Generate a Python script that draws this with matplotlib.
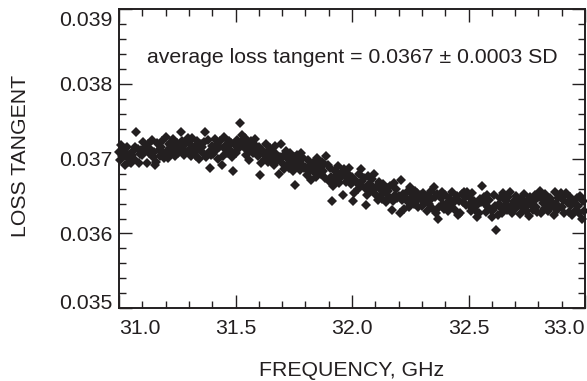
import numpy as np
import matplotlib
matplotlib.use("Agg")
import matplotlib.pyplot as plt
from matplotlib.ticker import MultipleLocator
from matplotlib.transforms import ScaledTranslation

# loss tangent readings in units of 1e-5, one row per 0.1 GHz (step 0.005 GHz)
LT_1E5 = [
    3709, 3698, 3718, 3704, 3712, 3692, 3707, 3715, 3701, 3695, 3694, 3705, 3710, 3699, 3716, 3736, 3713, 3694, 3706, 3711,
    3705, 3722, 3710, 3715, 3694, 3719, 3707, 3713, 3725, 3702, 3709, 3691, 3695, 3721, 3712, 3704, 3716, 3723, 3708, 3701,
    3729, 3710, 3701, 3719, 3714, 3706, 3726, 3712, 3703, 3717, 3721, 3708, 3715, 3735, 3724, 3713, 3705, 3720, 3709, 3727,
    3711, 3720, 3703, 3727, 3708, 3716, 3704, 3724, 3713, 3700, 3719, 3715, 3707, 3722, 3735, 3702, 3725, 3709, 3688, 3705,
    3717, 3706, 3726, 3712, 3720, 3700, 3715, 3723, 3692, 3703, 3729, 3713, 3718, 3707, 3724, 3711, 3721, 3702, 3684, 3719,
    3708, 3725, 3713, 3718, 3747, 3722, 3732, 3716, 3728, 3705, 3712, 3720, 3698, 3724, 3715, 3707, 3719, 3726, 3711, 3704,
    3715, 3678, 3694, 3712, 3707, 3699, 3719, 3705, 3696, 3710, 3714, 3701, 3708, 3691, 3717, 3706, 3698, 3680, 3702, 3720,
    3694, 3703, 3686, 3710, 3691, 3699, 3687, 3707, 3696, 3683, 3702, 3665, 3690, 3705, 3695, 3685, 3708, 3692, 3701, 3688,
    3689, 3678, 3698, 3684, 3692, 3672, 3687, 3695, 3681, 3675, 3701, 3685, 3690, 3679, 3696, 3683, 3693, 3674, 3703, 3691,
    3670, 3687, 3675, 3643, 3663, 3684, 3672, 3678, 3690, 3667, 3674, 3682, 3651, 3686, 3677, 3669, 3681, 3688, 3673, 3666,
    3675, 3643, 3654, 3672, 3667, 3659, 3679, 3665, 3686, 3670, 3674, 3661, 3638, 3651, 3677, 3666, 3658, 3673, 3662, 3680,
    3653, 3662, 3645, 3669, 3650, 3658, 3646, 3666, 3655, 3642, 3661, 3657, 3649, 3664, 3631, 3644, 3667, 3651, 3660, 3647,
    3650, 3627, 3672, 3645, 3653, 3633, 3648, 3656, 3642, 3636, 3662, 3646, 3651, 3640, 3657, 3644, 3654, 3635, 3647, 3652,
    3637, 3654, 3642, 3647, 3630, 3651, 3639, 3645, 3657, 3634, 3662, 3649, 3627, 3653, 3620, 3636, 3648, 3655, 3640, 3633,
    3651, 3639, 3630, 3648, 3643, 3635, 3655, 3641, 3632, 3646, 3650, 3625, 3644, 3627, 3653, 3642, 3656, 3649, 3638, 3656,
    3638, 3647, 3630, 3654, 3635, 3643, 3631, 3622, 3640, 3627, 3646, 3642, 3664, 3649, 3639, 3629, 3652, 3636, 3645, 3632,
    3622, 3631, 3651, 3637, 3605, 3625, 3640, 3648, 3634, 3628, 3654, 3638, 3643, 3632, 3649, 3636, 3656, 3627, 3639, 3644,
    3633, 3650, 3638, 3643, 3626, 3647, 3635, 3641, 3653, 3630, 3637, 3645, 3623, 3649, 3640, 3632, 3644, 3651, 3636, 3629,
    3649, 3657, 3628, 3646, 3641, 3633, 3653, 3639, 3630, 3644, 3648, 3635, 3642, 3625, 3656, 3640, 3632, 3647, 3636, 3654,
    3636, 3645, 3628, 3652, 3654, 3641, 3629, 3649, 3638, 3625, 3644, 3640, 3632, 3647, 3637, 3627, 3650, 3620, 3643, 3630,
]
FREQ_START = 31.0   # GHz
FREQ_STEP = 0.005   # GHz

XTICKS = [31.0, 31.5, 32.0, 32.5, 33.0]
XTICK_LABELS = ["31.0", "31.5", "32.0", "32.5", "33.0"]
YTICKS = [0.035, 0.036, 0.037, 0.038, 0.039]
YTICK_LABELS = ["0.035", "0.036", "0.037", "0.038", "0.039"]

INK = "#231f20"
FS = 15.3

plt.rcParams["font.family"] = ["Liberation Sans", "DejaVu Sans"]


def main() -> None:
    lt = np.array(LT_1E5) * 1e-5
    freq = FREQ_START + FREQ_STEP * np.arange(len(lt))

    fig = plt.figure(figsize=(5.87, 3.81), dpi=100)
    ax = fig.add_axes([119 / 587, 1 - 308.3 / 381, 466 / 587, 299.3 / 381])

    ax.plot(freq, lt, linestyle="none", marker="D", markersize=5.6,
            color=INK, markeredgewidth=0, clip_on=False)

    ax.set_xlim(31.0, 33.0)
    ax.set_ylim(0.035, 0.039)
    ax.set_xticks(XTICKS, labels=XTICK_LABELS)
    ax.set_yticks(YTICKS, labels=YTICK_LABELS)
    ax.xaxis.set_minor_locator(MultipleLocator(0.1))
    ax.yaxis.set_minor_locator(MultipleLocator(0.0002))

    ax.tick_params(which="both", direction="in", top=True, right=True,
                   color=INK, width=1.0, labelsize=FS, labelcolor=INK)
    ax.tick_params(which="major", length=9.5)
    ax.tick_params(which="minor", length=5.0)
    ax.tick_params(axis="x", which="major", pad=8)
    ax.tick_params(axis="y", which="major", pad=5)
    for sp in ax.spines.values():
        sp.set_color(INK)
        sp.set_linewidth(1.4)

    # end labels sit inside the frame, as in the original
    for lab in ax.get_xticklabels():
        if lab.get_text() == "31.0":
            lab.set_ha("left")
        elif lab.get_text() == "33.0":
            lab.set_ha("right")
    for lab in ax.get_yticklabels():
        if lab.get_text() == "0.039":
            lab.set_transform(lab.get_transform() + ScaledTranslation(0, -0.095, fig.dpi_scale_trans))
        elif lab.get_text() == "0.035":
            lab.set_transform(lab.get_transform() + ScaledTranslation(0, 0.065, fig.dpi_scale_trans))

    ax.text(32.0, 0.038346, "average loss tangent = 0.0367 \u00b1 0.0003 SD",
            ha="center", va="center", fontsize=FS, color=INK)

    fig.text(352 / 587, 1 - 370 / 381, "FREQUENCY, GHz", ha="center", va="center",
             fontsize=FS, color=INK)
    fig.text(21 / 587, 1 - 156 / 381, "LOSS TANGENT", ha="center", va="center",
             rotation=90, fontsize=FS, color=INK)

    fig.savefig("out.png", dpi=100)


if __name__ == "__main__":
    main()
